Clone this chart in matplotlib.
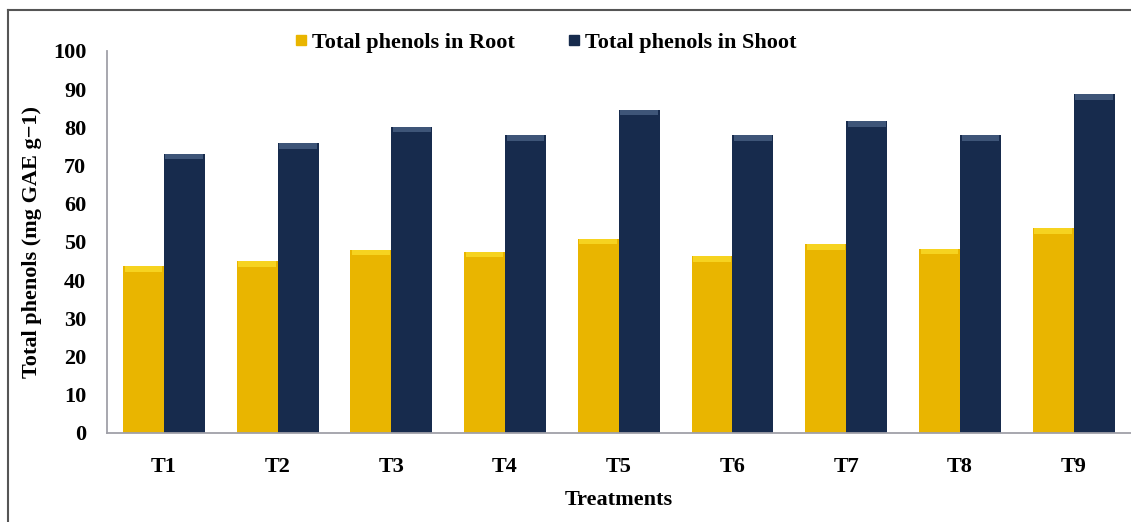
import numpy as np
import matplotlib.pyplot as plt
from matplotlib.lines import Line2D

treatments = ['T1', 'T2', 'T3', 'T4', 'T5', 'T6', 'T7', 'T8', 'T9']
root_phenols = [43.6, 44.9, 47.9, 47.4, 50.8, 46.2, 49.4, 48.2, 53.6]
shoot_phenols = [73.1, 75.8, 80.1, 77.9, 84.6, 77.9, 81.6, 77.9, 88.6]

root_colour = '#E9B500'
shoot_colour = '#172B4D'
root_cap = '#F6D320'
shoot_cap = '#3E5578'

plt.rcParams['font.family'] = ['Liberation Serif', 'DejaVu Serif']
plt.rcParams['font.weight'] = 'bold'

fig = plt.figure(figsize=(11.31, 5.22), dpi=100)
ax = fig.add_axes([0.0946, 0.1705, 0.905, 0.732])

x = np.arange(len(treatments))
w = 0.36
ax.bar(x - w/2, root_phenols, w, color=root_colour, label='Total phenols in Root')
ax.bar(x + w/2, shoot_phenols, w, color=shoot_colour, label='Total phenols in Shoot')

# bevelled look at the bar tops
cap = 1.4
ax.bar(x - w/2, cap, w * 0.92, bottom=np.array(root_phenols) - cap, color=root_cap, lw=0)
ax.bar(x + w/2, cap, w * 0.92, bottom=np.array(shoot_phenols) - cap, color=shoot_cap, lw=0)

ax.set_xlim(-0.5, len(treatments) - 0.5)
ax.set_ylim(0, 100)
ax.set_yticks(range(0, 101, 10))
ax.set_xticks(x)
ax.set_xticklabels(treatments)
ax.tick_params(axis='both', length=0, labelsize=16)
ax.tick_params(axis='y', pad=15)
ax.tick_params(axis='x', pad=17)

for side in ['top', 'right']:
    ax.spines[side].set_visible(False)
for side in ['left', 'bottom']:
    ax.spines[side].set_color('#A0A0A8')
    ax.spines[side].set_linewidth(1.3)

ax.set_ylabel('Total phenols (mg GAE g\u22121)', fontsize=16, fontweight='bold', labelpad=8)
ax.set_xlabel('Treatments', fontsize=16, fontweight='bold', labelpad=10)

handles = [Line2D([], [], marker='s', linestyle='', markersize=7, color=root_colour),
           Line2D([], [], marker='s', linestyle='', markersize=7, color=shoot_colour)]
fig.legend(handles, ['Total phenols in Root', 'Total phenols in Shoot'],
           loc='center', bbox_to_anchor=(0.481, 0.918), ncol=2, frameon=False,
           fontsize=16, handletextpad=0.1, columnspacing=2.25, handlelength=0.8)

# outer frame of the figure
fig.add_artist(Line2D([0.007, 0.007], [0.0, 0.981], color='#555555', lw=1.5))
fig.add_artist(Line2D([0.007, 1.0], [0.981, 0.981], color='#555555', lw=1.5))

fig.savefig('out.png', dpi=100)
